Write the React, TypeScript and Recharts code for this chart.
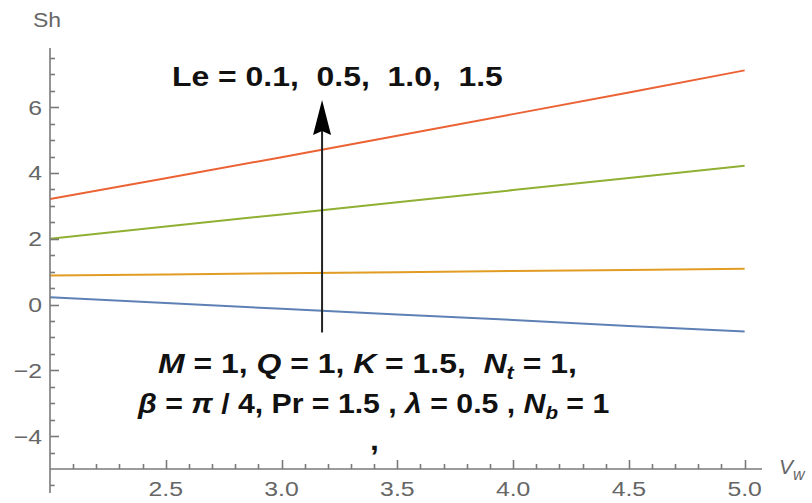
import { LineChart, Line, XAxis, YAxis, ReferenceLine } from "recharts";

// V_w sample points and Sh for each Le value
const vw = [2.0, 2.5, 3.0, 3.5, 4.0, 4.5, 5.0];
const shLe01 = [0.22, 0.05, -0.13, -0.3, -0.47, -0.65, -0.82];
const shLe05 = [0.88, 0.91, 0.95, 0.98, 1.02, 1.05, 1.09];
const shLe10 = [2.0, 2.37, 2.74, 3.11, 3.48, 3.85, 4.22];
const shLe15 = [3.21, 3.84, 4.48, 5.13, 5.79, 6.45, 7.12];

const xMajor = [2.5, 3.0, 3.5, 4.0, 4.5, 5.0];
const xTicks = [
  2.1, 2.2, 2.3, 2.4, 2.5, 2.6, 2.7, 2.8, 2.9, 3.0, 3.1, 3.2, 3.3, 3.4, 3.5,
  3.6, 3.7, 3.8, 3.9, 4.0, 4.1, 4.2, 4.3, 4.4, 4.5, 4.6, 4.7, 4.8, 4.9, 5.0,
];
const yMajor = [-4, -2, 0, 2, 4, 6];
const yTicks = [
  -4.5, -4, -3.5, -3, -2.5, -2, -1.5, -1, -0.5, 0, 0.5, 1, 1.5, 2, 2.5, 3, 3.5,
  4, 4.5, 5, 5.5, 6, 6.5, 7, 7.5,
];

const data = vw.map((v, i) => ({
  vw: v,
  a: shLe01[i],
  b: shLe05[i],
  c: shLe10[i],
  d: shLe15[i],
}));

const axisColor = "#7a7a7a";
const labelColor = "#666";
const font = "'Liberation Sans', Arial, sans-serif";
const pre = { whiteSpace: "pre" as const };

const isMajor = (v: number, list: number[]) => list.some((m) => Math.abs(m - v) < 1e-6);

const XTick = (props: any) => {
  const { x, y, payload } = props;
  const v = payload.value;
  const major = isMajor(v, xMajor);
  const px = Math.round(x) + 0.5;
  return (
    <g>
      <path d={`M${px},${y}V${y - (major ? 9 : 5)}`} stroke={axisColor} strokeWidth={1.6} fill="none" />
      {major && (
        <text
          transform={`translate(${x},${y + 27}) scale(1.18,1)`}
          textAnchor="middle"
          fontFamily={font}
          fontSize={21}
          fill={labelColor}
        >
          {v.toFixed(1)}
        </text>
      )}
    </g>
  );
};

const YTick = (props: any) => {
  const { x, y, payload } = props;
  const v = payload.value;
  const major = isMajor(v, yMajor);
  const py = Math.round(y) + 0.5;
  return (
    <g>
      <path d={`M${x},${py}H${x + (major ? 9 : 5)}`} stroke={axisColor} strokeWidth={1.6} fill="none" />
      {major && (
        <text
          transform={`translate(${x - 8},${y + 7.5}) scale(1.18,1)`}
          textAnchor="end"
          fontFamily={font}
          fontSize={21}
          fill={labelColor}
        >
          {v < 0 ? `\u2212${-v}` : `${v}`}
        </text>
      )}
    </g>
  );
};

const Arrow = (props: any) => {
  const { x1, y1, y2 } = props;
  const tip = Math.min(y1, y2);
  const base = Math.max(y1, y2);
  return (
    <g>
      <line x1={x1} y1={base} x2={x1} y2={tip + 30} stroke="#222" strokeWidth={2} />
      <polygon points={`${x1},${tip} ${x1 - 9},${tip + 35} ${x1},${tip + 31} ${x1 + 9},${tip + 35}`} fill="#000" />
    </g>
  );
};

export default function App() {
  return (
    <div style={{ position: "absolute", left: 0, top: 0, width: 812, height: 503, background: "#fff" }}>
      <LineChart width={812} height={503} data={data} margin={{ top: 48, right: 50, bottom: 33, left: 49 }}>
        <XAxis
          dataKey="vw"
          type="number"
          domain={[2, 5.075]}
          allowDataOverflow
          ticks={xTicks}
          interval={0}
          height={1}
          tickSize={0}
          tickMargin={0}
          tickLine={false}
          axisLine={{ stroke: axisColor, strokeWidth: 1.6 }}
          tick={<XTick />}
        />
        <YAxis
          type="number"
          domain={[-5, 7.8]}
          allowDataOverflow
          ticks={yTicks}
          interval={0}
          width={1}
          tickSize={0}
          tickMargin={0}
          tickLine={false}
          axisLine={{ stroke: axisColor, strokeWidth: 1.6 }}
          tick={<YTick />}
        />
        <ReferenceLine
          segment={[{ x: 2, y: -5 }, { x: 2, y: -5.73 }]}
          stroke={axisColor}
          strokeWidth={1.6}
          ifOverflow="visible"
        />
        <ReferenceLine
          segment={[{ x: 2, y: -5.5 }, { x: 2.02, y: -5.5 }]}
          stroke={axisColor}
          strokeWidth={1.6}
          ifOverflow="visible"
        />
        <Line dataKey="a" stroke="#5E81B5" strokeWidth={2} dot={false} isAnimationActive={false} />
        <Line dataKey="b" stroke="#E19C24" strokeWidth={2} dot={false} isAnimationActive={false} />
        <Line dataKey="c" stroke="#8FB032" strokeWidth={2} dot={false} isAnimationActive={false} />
        <Line dataKey="d" stroke="#EB6235" strokeWidth={2} dot={false} isAnimationActive={false} />
        <ReferenceLine
          segment={[{ x: 3.175, y: -0.85 }, { x: 3.175, y: 6.22 }]}
          ifOverflow="visible"
          shape={(p: any) => <Arrow {...p} />}
        />
      </LineChart>
      <svg width={812} height={503} style={{ position: "absolute", left: 0, top: 0, pointerEvents: "none" }}>
        <text transform="translate(33,27) scale(1.15,1)" fontFamily={font} fontSize={20} fill={labelColor}>
          Sh
        </text>
        <text transform="translate(779,474)" fontFamily={font} fontSize={21} fontStyle="italic" fill={labelColor}>
          V
          <tspan fontSize={16} dy={6}>
            w
          </tspan>
        </text>
        <g fontFamily={font} fontWeight="bold" fontSize={28} fill="#111">
          <text transform="translate(172,86) scale(1.14,1)" style={pre}>
            {"Le = 0.1,  0.5,  1.0,  1.5"}
          </text>
          <text transform="translate(158,373) scale(1.14,1)" style={pre}>
            <tspan fontStyle="italic">M</tspan>
            {" = 1, "}
            <tspan fontStyle="italic">Q</tspan>
            {" = 1, "}
            <tspan fontStyle="italic">K</tspan>
            {" = 1.5,  "}
            <tspan fontStyle="italic">N</tspan>
            <tspan fontStyle="italic" fontSize={19} dy={6}>t</tspan>
            <tspan dy={-6}>{" = 1,"}</tspan>
          </text>
          <text transform="translate(138,413) scale(1.08,1)" style={pre}>
            <tspan fontStyle="italic">β</tspan>
            {" = "}
            <tspan fontStyle="italic">π</tspan>
            {" / 4, Pr = 1.5 , "}
            <tspan fontStyle="italic">λ</tspan>
            {" = 0.5 , "}
            <tspan fontStyle="italic">N</tspan>
            <tspan fontStyle="italic" fontSize={19} dy={6}>b</tspan>
            <tspan dy={-6}>{" = 1"}</tspan>
          </text>
          <text transform="translate(370,450) scale(1.14,1)">,</text>
        </g>
      </svg>
    </div>
  );
}
